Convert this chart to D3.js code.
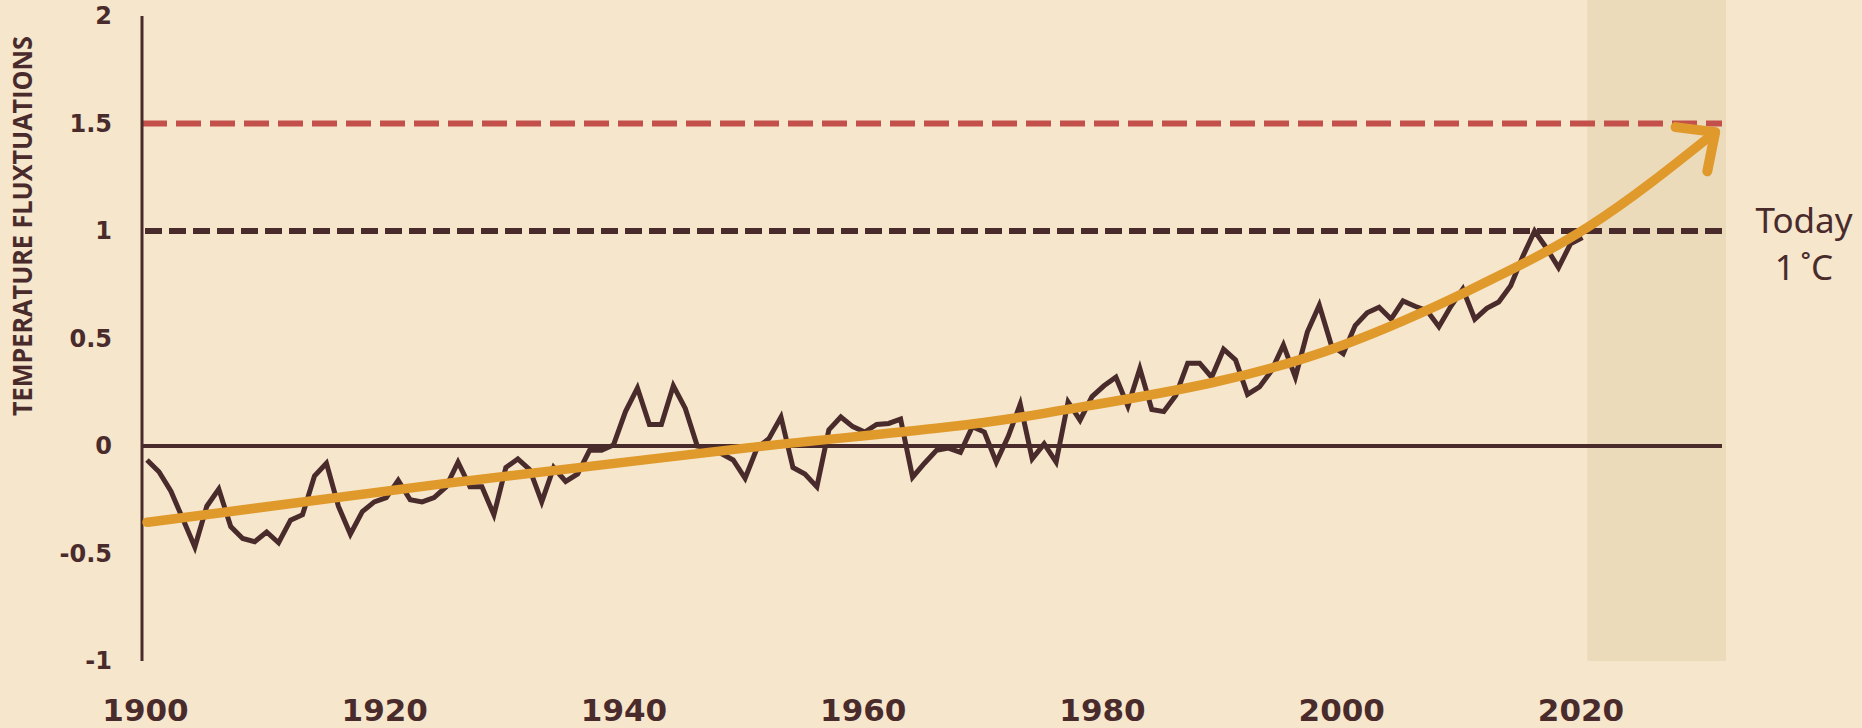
<!DOCTYPE html>
<html>
<head>
<meta charset="utf-8">
<script src="https://cdn.jsdelivr.net/npm/d3@7"></script>
<style>
  html, body { margin: 0; padding: 0; background: #f5e6cc; }
  svg { display: block; }
</style>
</head>
<body>
<svg id="chart" width="1862" height="728"></svg>
<script>
// annual temperature anomaly
var years = d3.range(1900, 2021);
var anomaly = [
  -0.065, -0.12, -0.21, -0.34, -0.47, -0.28, -0.20, -0.375, -0.43, -0.445,
  -0.40, -0.45, -0.345, -0.32, -0.14, -0.08, -0.28, -0.41, -0.305, -0.26,
  -0.24, -0.16, -0.25, -0.26, -0.24, -0.19, -0.075, -0.19, -0.19, -0.32,
  -0.10, -0.06, -0.11, -0.26, -0.10, -0.165, -0.13, -0.02, -0.02, 0.005,
  0.16, 0.27, 0.10, 0.10, 0.28, 0.175, 0.0, -0.01, -0.035, -0.065,
  -0.15, -0.01, 0.035, 0.135, -0.10, -0.13, -0.19, 0.075, 0.135, 0.09,
  0.065, 0.10, 0.105, 0.125, -0.145, -0.08, -0.02, -0.01, -0.03, 0.09,
  0.065, -0.075, 0.045, 0.195, -0.06, 0.01, -0.075, 0.205, 0.12, 0.23,
  0.28, 0.32, 0.185, 0.36, 0.17, 0.16, 0.235, 0.385, 0.385, 0.32,
  0.45, 0.40, 0.24, 0.275, 0.35, 0.47, 0.32, 0.53, 0.655, 0.47,
  0.43, 0.56, 0.62, 0.645, 0.59, 0.675, 0.65, 0.63, 0.555, 0.65,
  0.73, 0.59, 0.64, 0.67, 0.745, 0.88, 1.0, 0.92, 0.83, 0.94,
  0.97
];

// trend arrow (year, value)
var trendYears = [1900, 1925, 1950, 1975, 2000, 2010.6, 2020.5, 2031.1];
var trendValues = [-0.355, -0.174, -0.01, 0.152, 0.47, 0.726, 1.02, 1.46];

var yTicks = [-1, -0.5, 0, 0.5, 1, 1.5, 2];
var xTicks = [1900, 1920, 1940, 1960, 1980, 2000, 2020];
var futureBand = [2020.4, 2032];
var limitLevel = 1.5;
var todayLevel = 1;

var dark = "#4a2b2c", orange = "#e0992b", red = "#c4504b";

var svg = d3.select("#chart");

var x = d3.scaleLinear().domain([1900, 2032]).range([147, 1726]);
var y = d3.scaleLinear().domain([-1, 2]).range([661, 16]);
var lineEnd = x.range()[1] - 4;
var axisX = x(1900) - 5;

// shaded future band
svg.append("rect")
    .attr("x", x(futureBand[0]))
    .attr("y", 0)
    .attr("width", x(futureBand[1]) - x(futureBand[0]))
    .attr("height", y(-1))
    .attr("fill", "#ecdbbb");

// 1.5 limit
svg.append("line")
    .attr("x1", axisX).attr("x2", lineEnd)
    .attr("y1", y(limitLevel)).attr("y2", y(limitLevel))
    .attr("stroke", red).attr("stroke-width", 6)
    .attr("stroke-dasharray", "25,9");

// today level
svg.append("line")
    .attr("x1", axisX + 3).attr("x2", lineEnd)
    .attr("y1", y(todayLevel)).attr("y2", y(todayLevel))
    .attr("stroke", dark).attr("stroke-width", 6)
    .attr("stroke-dasharray", "17,7");

// zero line
svg.append("line")
    .attr("x1", axisX).attr("x2", lineEnd)
    .attr("y1", y(0)).attr("y2", y(0))
    .attr("stroke", dark).attr("stroke-width", 4);

// vertical axis
svg.append("line")
    .attr("x1", axisX).attr("x2", axisX)
    .attr("y1", y(2)).attr("y2", y(-1))
    .attr("stroke", dark).attr("stroke-width", 3);

// temperature series
var line = d3.line()
    .x(function(d, i) { return x(years[i]); })
    .y(function(d) { return y(d); });

svg.append("path")
    .datum(anomaly)
    .attr("d", line)
    .attr("fill", "none")
    .attr("stroke", dark)
    .attr("stroke-width", 5)
    .attr("stroke-linejoin", "miter");

// trend arrow
var trend = d3.line()
    .x(function(d, i) { return x(trendYears[i]); })
    .y(function(d) { return y(d); })
    .curve(d3.curveMonotoneX);

svg.append("path")
    .datum(trendValues)
    .attr("d", trend)
    .attr("fill", "none")
    .attr("stroke", orange)
    .attr("stroke-width", 9.5)
    .attr("stroke-linecap", "round");

var n = trendYears.length;
var tx = x(trendYears[n - 1]), ty = y(trendValues[n - 1]);
var px = x(trendYears[n - 2] + 4), py = y(d3.interpolateNumber(trendValues[n - 2], trendValues[n - 1])(0.4));
var ang = Math.atan2(ty - py, tx - px);
var headLen = 40, spread = Math.PI / 4.2;
var head = d3.path();
head.moveTo(tx - headLen * Math.cos(ang - spread), ty - headLen * Math.sin(ang - spread));
head.lineTo(tx, ty);
head.lineTo(tx - headLen * Math.cos(ang + spread), ty - headLen * Math.sin(ang + spread));
svg.append("path")
    .attr("d", head.toString())
    .attr("fill", "none")
    .attr("stroke", orange)
    .attr("stroke-width", 10)
    .attr("stroke-linecap", "round")
    .attr("stroke-linejoin", "round");

// y tick labels
var yAxis = svg.append("g")
    .attr("transform", "translate(112,0)")
    .call(d3.axisLeft(y).tickValues(yTicks).tickSize(0).tickPadding(0)
        .tickFormat(function(d) { return String(d); }));
yAxis.select(".domain").remove();
yAxis.selectAll("text")
    .attr("fill", dark)
    .style("font-family", "'DejaVu Sans', sans-serif")
    .style("font-weight", "bold")
    .style("font-size", "24px");

// x tick labels
var xAxis = svg.append("g")
    .attr("transform", "translate(-2,699)")
    .call(d3.axisBottom(x).tickValues(xTicks).tickSize(0).tickPadding(0)
        .tickFormat(d3.format("d")));
xAxis.select(".domain").remove();
xAxis.selectAll("text")
    .attr("fill", dark)
    .style("font-family", "'DejaVu Sans', sans-serif")
    .style("font-weight", "bold")
    .style("font-size", "31px");

// axis title
svg.append("text")
    .attr("transform", "translate(32,226) rotate(-90)")
    .attr("text-anchor", "middle")
    .attr("textLength", 380)
    .attr("lengthAdjust", "spacingAndGlyphs")
    .attr("fill", dark)
    .style("font-family", "'Open Sans', sans-serif")
    .style("font-weight", "bold")
    .style("font-size", "27px")
    .text("TEMPERATURE FLUXTUATIONS");

// today label
var today = svg.append("text")
    .attr("text-anchor", "middle")
    .attr("fill", dark)
    .style("font-family", "'Noto Sans', sans-serif")
    .style("font-size", "35px");
today.append("tspan").attr("x", 1804).attr("y", 233).text("Today");
today.append("tspan").attr("x", 1804).attr("y", 280).text("1\u2009\u02DAC");
</script>
</body>
</html>
